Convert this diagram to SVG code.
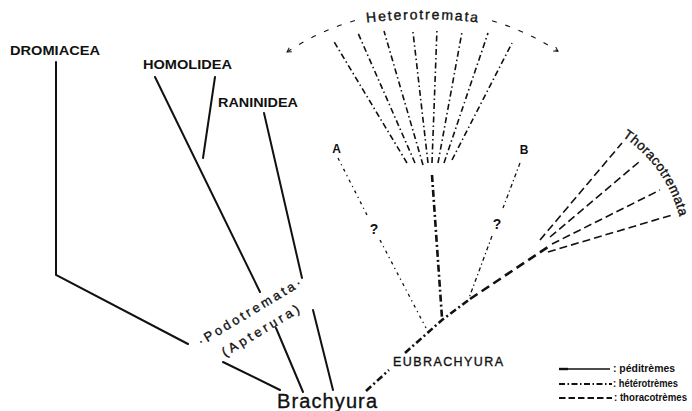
<svg xmlns="http://www.w3.org/2000/svg" width="692" height="411" viewBox="0 0 692 411">
<style>
text{font-family:"Liberation Sans",Arial,sans-serif;fill:#111}
.lbl{font-size:12px;font-weight:bold}
.med{stroke:#111;stroke-width:0.35}
.solid{fill:none;stroke:#111;stroke-width:2;stroke-linecap:round}
.fan{fill:none;stroke:#111;stroke-width:1.6;stroke-dasharray:6 3 1.5 3}
.stem{fill:none;stroke:#111;stroke-width:2.6;stroke-dasharray:7 3 2 3}
.thor{fill:none;stroke:#111;stroke-width:1.6;stroke-dasharray:8 4}
.trunk{fill:none;stroke:#111;stroke-width:2.6;stroke-dasharray:9 5}
.uncA{fill:none;stroke:#111;stroke-width:1.3;stroke-dasharray:3 4 1.2 4}
.uncB{fill:none;stroke:#111;stroke-width:1.3;stroke-dasharray:4 3 1.2 3}
.arc{fill:none;stroke:#111;stroke-width:1.1;stroke-dasharray:5 9}
.leg{font-size:10px;font-weight:bold}
</style>
<defs>
<marker id="chev" viewBox="0 0 10 10" refX="8" refY="5" markerWidth="6" markerHeight="6" orient="auto" markerUnits="userSpaceOnUse">
<path d="M1,1 L8,5 L1,9" fill="none" stroke="#111" stroke-width="1.6"/>
</marker>
<path id="hetArc" d="M330,28 A500,500 0 0 1 516,28"/>
<path id="thoArc" d="M611,130 A135,135 0 0 1 682,230"/>
</defs>

<g id="connectors">
<!-- Dromiacea -->
<path class="solid" d="M56,62 V275 L188,344"/>
<path class="solid" d="M223,362 L280,390"/>
<!-- Homolidea -->
<path class="solid" d="M155,77 L260,292"/>
<path class="solid" d="M276,328 L303,392"/>
<path class="solid" d="M215,77 L203,158"/>
<!-- Raninidea -->
<path class="solid" d="M264,113 L302,278"/>
<path class="solid" d="M313,310 L333,390"/>
<!-- Eubrachyura trunk -->
<path class="stem" d="M366,391 L389,370"/>
<path class="stem" d="M405,353 L442,320 L470,299"/>
<path class="trunk" d="M470,299 L548,247"/>
<!-- Heterotremata stem and fan -->
<path class="stem" d="M432,175 L442,318"/>
<path class="fan" d="M407,163 L333,40"/>
<path class="fan" d="M415,163 L358,33"/>
<path class="fan" d="M423,165 L384,31"/>
<path class="fan" d="M428,163 L413,32"/>
<path class="fan" d="M432,163 L437,29"/>
<path class="fan" d="M438,163 L462,32"/>
<path class="fan" d="M444,163 L488,33"/>
<path class="fan" d="M452,160 L512,43"/>
<!-- Heterotremata bracket arc -->
<path class="arc" d="M355,20.5 A245.6,245.6 0 0 0 287,52" marker-end="url(#chev)"/>
<path class="arc" d="M492,20.8 A245.6,245.6 0 0 1 558,51.3" marker-end="url(#chev)"/>
<!-- Thoracotremata fan -->
<path class="thor" d="M540,240 L622,143"/>
<path class="thor" d="M550,237 L639,162"/>
<path class="thor" d="M552,244 L660,190"/>
<path class="thor" d="M548,252 L672,215"/>
<!-- A and B uncertain lines -->
<path class="uncA" d="M338,158 L367,215"/>
<path class="uncA" d="M380,240 L426,328"/>
<path class="uncB" d="M520,163 L503,208"/>
<path class="uncB" d="M492,236 L469,298"/>
</g>

<g id="dromiacea"><text class="lbl" x="10" y="55" textLength="90" lengthAdjust="spacingAndGlyphs">DROMIACEA</text></g>
<g id="homolidea"><text class="lbl" x="143" y="69" textLength="89" lengthAdjust="spacingAndGlyphs">HOMOLIDEA</text></g>
<g id="raninidea"><text class="lbl" x="218" y="107" textLength="80" lengthAdjust="spacingAndGlyphs">RANINIDEA</text></g>

<g id="podotremata">
<text class="med" x="201" y="346" font-size="13" textLength="118" transform="rotate(-31 201 346)">·Podotremata·</text>
<text class="med" x="225" y="357" font-size="13" textLength="88" transform="rotate(-31 225 357)">(Apterura)</text>
</g>

<g id="brachyura"><text class="med" x="277" y="408" font-size="20" textLength="100">Brachyura</text></g>
<g id="eubrachyura"><text class="med" x="393" y="366" font-size="12.5" textLength="110">EUBRACHYURA</text></g>

<g id="heterotremata"><text class="med" font-size="14"><textPath href="#hetArc" startOffset="50%" text-anchor="middle" letter-spacing="1.8">Heterotremata</textPath></text></g>
<g id="thoracotremata"><text class="med" font-size="13.5"><textPath href="#thoArc" startOffset="50%" text-anchor="middle" letter-spacing="0.4">Thoracotremata</textPath></text></g>

<g id="nodeA">
<text class="lbl" x="336.5" y="153" font-size="11" text-anchor="middle">A</text>
<text x="374" y="234" font-size="14" font-weight="bold" text-anchor="middle">?</text>
</g>
<g id="nodeB">
<text class="lbl" x="524" y="154" font-size="11" text-anchor="middle">B</text>
<text x="497" y="229" font-size="14" font-weight="bold" text-anchor="middle">?</text>
</g>

<g id="legend">
<path d="M559,369 H568" stroke="#111" stroke-width="2.4" fill="none"/>
<path d="M568,369 H610" stroke="#111" stroke-width="1.4" fill="none"/>
<path d="M559,384 H612" stroke="#111" stroke-width="1.8" fill="none" stroke-dasharray="6 2.5 1.5 2.5"/>
<path d="M559,398 H612" stroke="#111" stroke-width="1.8" fill="none" stroke-dasharray="6.5 3"/>
<text class="leg" x="613" y="372" textLength="62" lengthAdjust="spacingAndGlyphs">: péditrèmes</text>
<text class="leg" x="613" y="387" textLength="65" lengthAdjust="spacingAndGlyphs">: hétérotrèmes</text>
<text class="leg" x="614" y="401" textLength="73" lengthAdjust="spacingAndGlyphs">: thoracotrèmes</text>
</g>
</svg>
